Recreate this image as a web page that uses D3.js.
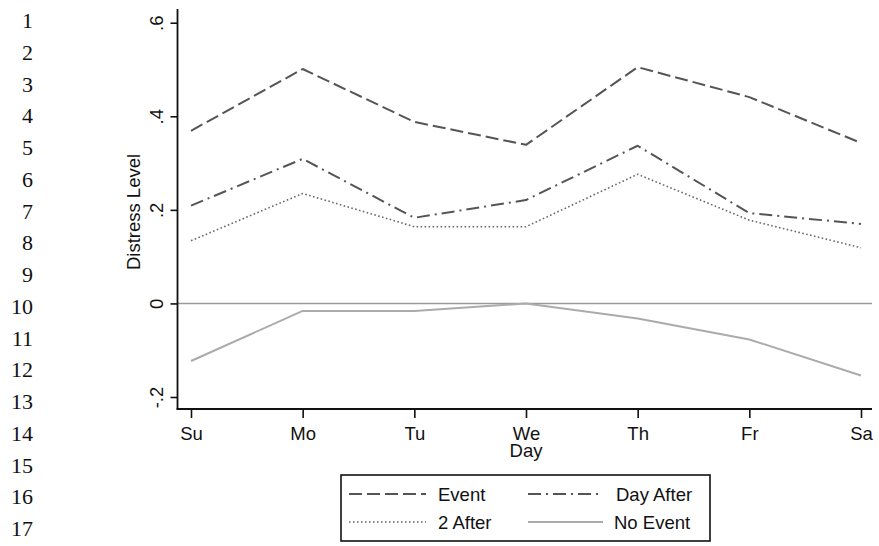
<!DOCTYPE html>
<html lang="en">
    <head>
        <meta charset="utf-8">
        <title>Distress Level by Day</title>
        <script src="https://d3js.org/d3.v7.min.js"></script>
        <style>
            body { margin: 0; background: #fff; }
            text { font-family: "Liberation Sans", Arial, sans-serif; fill: #111; }
            text.lineno { font-family: "Liberation Serif", "Times New Roman", serif; }
        </style>
    </head>
    <body>
        <script type="text/javascript">
        'use strict';

        //data
        var days = ["Su", "Mo", "Tu", "We", "Th", "Fr", "Sa"];
        var eventVals    = [0.369, 0.501, 0.388, 0.339, 0.505, 0.441, 0.343];
        var dayAfterVals = [0.209, 0.309, 0.183, 0.221, 0.337, 0.193, 0.170];
        var twoAfterVals = [0.134, 0.235, 0.164, 0.164, 0.276, 0.178, 0.119];
        var noEventVals  = [-0.123, -0.016, -0.016, 0.000, -0.032, -0.077, -0.154];
        var yTicks = [-0.2, 0, 0.2, 0.4, 0.6];
        var yTickLabels = ["-.2", "0", ".2", ".4", ".6"];
        var lineNumbers = d3.range(1, 18);

        var w = 879;
        var h = 546;

        var xScale = d3.scalePoint()
            .domain(days)
            .range([191, 861]);
        var yScale = d3.scaleLinear()
            .domain([-0.2, 0.6])
            .range([397, 22.7]);

        var svg = d3.select("body")
                    .append("svg")
                    .attr("width", w)
                    .attr("height", h);

        // line numbers down the left margin
        svg.selectAll("text.lineno")
            .data(lineNumbers)
            .enter()
            .append("text")
            .attr("class", "lineno")
            .attr("x", 33)
            .attr("y", function(d, i){ return 28 + i * 31.75; })
            .attr("text-anchor", "end")
            .attr("font-size", "22px")
            .text(function(d){ return d; });

        // zero reference line
        svg.append("line")
            .attr("x1", 178).attr("x2", 872)
            .attr("y1", yScale(0)).attr("y2", yScale(0))
            .attr("stroke", "#9a9a9a")
            .attr("stroke-width", 1.6);

        // axes
        var yAxis = d3.axisLeft(yScale)
            .tickValues(yTicks)
            .tickSize(7)
            .tickFormat(function(d, i){ return yTickLabels[i]; });
        var gy = svg.append("g")
            .attr("transform", "translate(177.5,0)")
            .call(yAxis);
        gy.select(".domain").remove();
        gy.selectAll(".tick line").attr("stroke", "#111").attr("stroke-width", 1.6);
        gy.selectAll(".tick text")
            .attr("x", 0).attr("y", 0).attr("dy", null)
            .attr("transform", "translate(-14.5,0) rotate(-90)")
            .attr("text-anchor", "middle")
            .attr("font-size", "18.5px")
            .attr("fill", "#111");

        var xAxis = d3.axisBottom(xScale)
            .tickSize(9);
        var gx = svg.append("g")
            .attr("transform", "translate(0,409)")
            .call(xAxis);
        gx.select(".domain").remove();
        gx.selectAll(".tick line").attr("stroke", "#111").attr("stroke-width", 1.6);
        gx.selectAll(".tick text")
            .attr("y", 31).attr("dy", null)
            .attr("font-size", "18.5px")
            .attr("fill", "#111");

        svg.append("line")
            .attr("x1", 177.5).attr("x2", 177.5)
            .attr("y1", 9).attr("y2", 409.8)
            .attr("stroke", "#111").attr("stroke-width", 1.8);
        svg.append("line")
            .attr("x1", 176.6).attr("x2", 872)
            .attr("y1", 409).attr("y2", 409)
            .attr("stroke", "#111").attr("stroke-width", 1.8);

        // axis titles
        svg.append("text")
            .attr("transform", "translate(140," + 212 + ") rotate(-90)")
            .attr("text-anchor", "middle")
            .attr("font-size", "18.5px")
            .text("Distress Level");
        svg.append("text")
            .attr("x", 526).attr("y", 457)
            .attr("text-anchor", "middle")
            .attr("font-size", "18.5px")
            .text("Day");

        // series
        var series = [
            {name: "Event",     values: eventVals,    color: "#555", width: 2,   dash: "13,5"},
            {name: "Day After", values: dayAfterVals, color: "#555", width: 2,   dash: "13,5,2,5"},
            {name: "2 After",   values: twoAfterVals, color: "#6a6a6a", width: 1.6, dash: "1.6,2.4"},
            {name: "No Event",  values: noEventVals,  color: "#ababab", width: 2, dash: null}
        ];

        var line = d3.line()
            .x(function(d, i){ return xScale(days[i]); })
            .y(function(d){ return yScale(d); });

        svg.selectAll("path.series")
            .data(series)
            .enter()
            .append("path")
            .attr("class", "series")
            .attr("d", function(d){ return line(d.values); })
            .attr("fill", "none")
            .attr("stroke", function(d){ return d.color; })
            .attr("stroke-width", function(d){ return d.width; })
            .attr("stroke-dasharray", function(d){ return d.dash; })
            .attr("stroke-linejoin", "round");

        // legend
        var legend = svg.append("g");
        legend.append("rect")
            .attr("x", 341).attr("y", 475)
            .attr("width", 369).attr("height", 66)
            .attr("fill", "#fff")
            .attr("stroke", "#111")
            .attr("stroke-width", 1.6);

        var legendPos = [
            {x1: 349, x2: 426, tx: 438, y: 494},
            {x1: 528, x2: 603, tx: 616, y: 494},
            {x1: 349, x2: 426, tx: 438, y: 522},
            {x1: 528, x2: 603, tx: 614, y: 522}
        ];
        var items = legend.selectAll("g.item")
            .data(series)
            .enter()
            .append("g")
            .attr("class", "item");
        items.append("line")
            .attr("x1", function(d, i){ return legendPos[i].x1; })
            .attr("x2", function(d, i){ return legendPos[i].x2; })
            .attr("y1", function(d, i){ return legendPos[i].y; })
            .attr("y2", function(d, i){ return legendPos[i].y; })
            .attr("stroke", function(d){ return d.color; })
            .attr("stroke-width", function(d){ return d.width; })
            .attr("stroke-dasharray", function(d){ return d.dash; });
        items.append("text")
            .attr("x", function(d, i){ return legendPos[i].tx; })
            .attr("y", function(d, i){ return legendPos[i].y + 6.5; })
            .attr("font-size", "18.5px")
            .text(function(d){ return d.name; });
        </script>
    </body>
</html>
